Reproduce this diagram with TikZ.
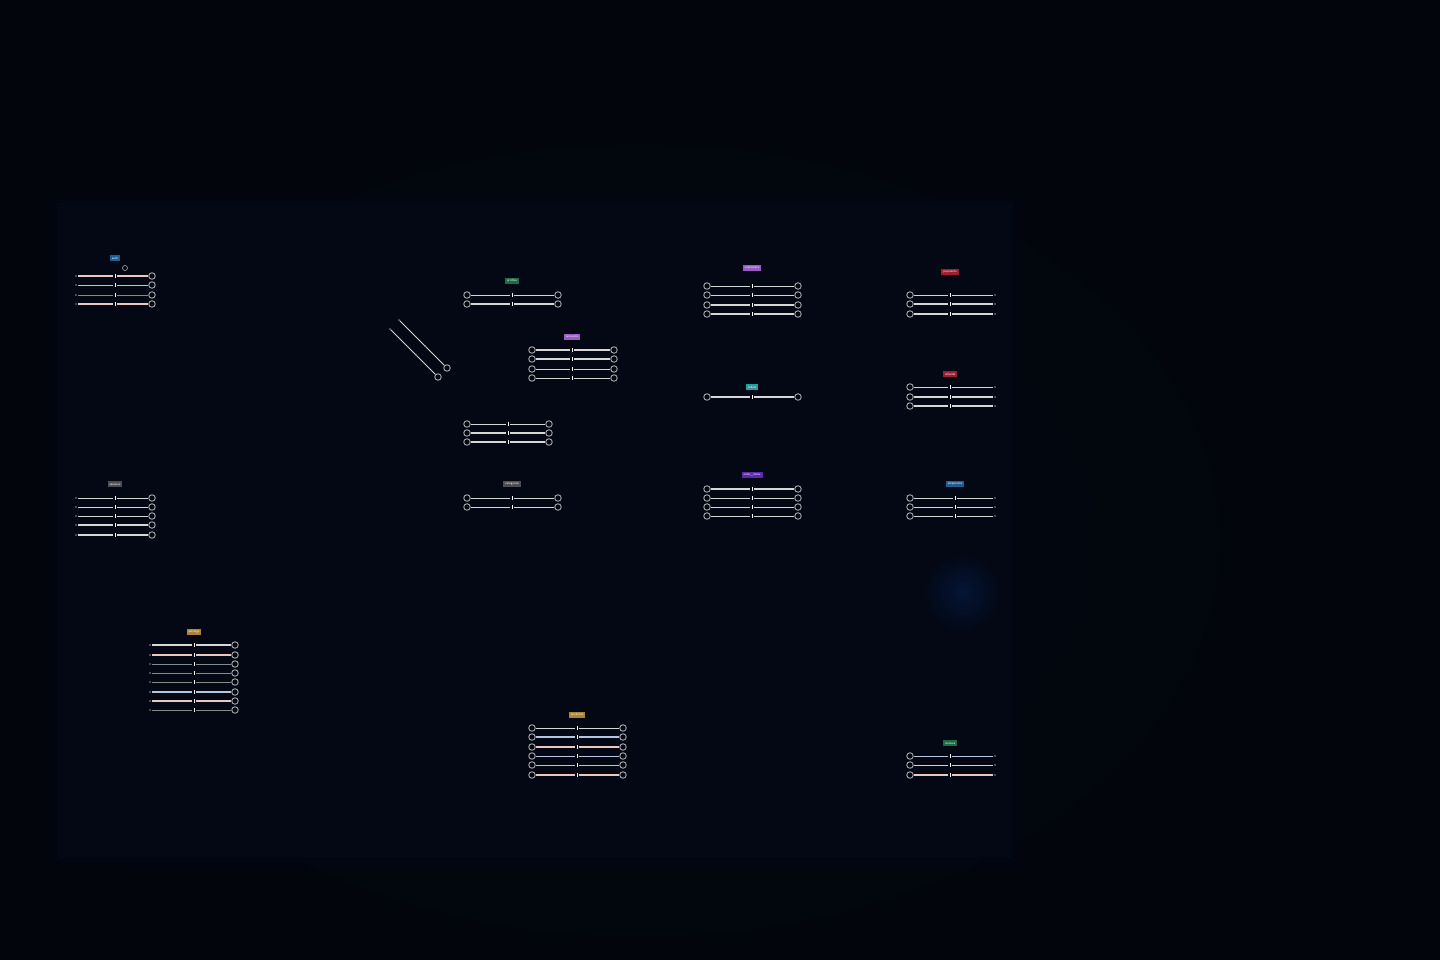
\documentclass[tikz,border=0pt]{standalone}
\usetikzlibrary{shadings}
\definecolor{bgc}{HTML}{02050B}
\definecolor{panelc}{HTML}{030814}
\definecolor{ringc}{HTML}{A8A8A8}
\definecolor{linec}{HTML}{D6D6D6}
\definecolor{pinkl}{HTML}{E8C8C0}
\definecolor{bluel}{HTML}{B8C4DC}
\definecolor{greyl}{HTML}{8A8A8A}
\definecolor{tblue}{HTML}{1E5E92}
\definecolor{tgrey}{HTML}{4C4C52}
\definecolor{tgold}{HTML}{A8853A}
\definecolor{tgreen}{HTML}{1C6B46}
\definecolor{tpurple}{HTML}{9A5CC2}
\definecolor{tred}{HTML}{9E1E2E}
\definecolor{tteal}{HTML}{2A9A9C}
\definecolor{tviolet}{HTML}{5A28A8}
\definecolor{glowc}{HTML}{082050}
\tikzset{
  ring/.style={circle,draw=ringc,line width=0.9pt,minimum size=6.5pt,inner sep=0pt},
  enddot/.style={circle,fill=greyl,minimum size=1.6pt,inner sep=0pt},
  rowline/.style={draw=linec,line width=1.4pt},
  thinrow/.style={line width=0.9pt},
  tickm/.style={draw=white,line width=0.7pt},
  tag/.style={rectangle,inner xsep=2pt,inner ysep=0.8pt,text=white,font=\fontsize{3.2}{3.6}\selectfont\sffamily,minimum height=5.5pt}
}
% rings at both ends
\newcommand\rowB[6]{%
  \node[ring] (#1a) at (#2,#5) {};
  \node[ring] (#1b) at (#3,#5) {};
  \coordinate (#1m) at (#4,#5);
  \draw[rowline,#6] (#1a) -- ([xshift=-2pt]#1m);
  \draw[rowline,#6] ([xshift=2pt]#1m) -- (#1b);
  \draw[tickm] ([yshift=2pt]#1m) -- ([yshift=-2pt]#1m);
}
% dot left, ring right
\newcommand\rowL[6]{%
  \node[enddot] (#1a) at (#2,#5) {};
  \node[ring] (#1b) at (#3,#5) {};
  \coordinate (#1m) at (#4,#5);
  \draw[rowline,#6] ([xshift=2pt]#1a.center) -- ([xshift=-2pt]#1m);
  \draw[rowline,#6] ([xshift=2pt]#1m) -- (#1b);
  \draw[tickm] ([yshift=2pt]#1m) -- ([yshift=-2pt]#1m);
}
% ring left, dot right
\newcommand\rowR[6]{%
  \node[ring] (#1a) at (#2,#5) {};
  \node[enddot] (#1b) at (#3,#5) {};
  \coordinate (#1m) at (#4,#5);
  \draw[rowline,#6] (#1a) -- ([xshift=-2pt]#1m);
  \draw[rowline,#6] ([xshift=2pt]#1m) -- ([xshift=-2pt]#1b.center);
  \draw[tickm] ([yshift=2pt]#1m) -- ([yshift=-2pt]#1m);
}
\begin{document}
\begin{tikzpicture}[x=1pt,y=-1pt]
\useasboundingbox (0,0) rectangle (1440,960);
\fill[bgc] (0,0) rectangle (1440,960);
% soft overall glow
\shade[inner color=panelc!70!bgc,outer color=bgc] (640,540) ellipse (760 and 520);
% soft-edged panel
\foreach \d/\o in {14/0.15,10/0.2,6/0.3,3/0.45,0/1}{
  \fill[panelc,opacity=\o] (58-\d,203-\d) rectangle (1012+\d,858+\d);
}
\shade[inner color=glowc!70!panelc,outer color=panelc,opacity=0.8] (962,592) circle (40);

% group 1 (top left)
\node[tag,fill=tblue] (t1) at (115,258) {auth};
\node[circle,draw=ringc,line width=0.6pt,minimum size=5pt,inner sep=0pt] (t1i) at (125,268) {};
\rowL{g1r1}{76}{152}{115}{276}{draw=pinkl}
\rowL{g1r2}{76}{152}{115}{285}{draw=bluel,thinrow}
\rowL{g1r3}{76}{152}{115}{295}{draw=greyl,thinrow}
\rowL{g1r4}{76}{152}{115}{304}{draw=pinkl}

% group 2 (left middle)
\node[tag,fill=tgrey] (t2) at (115,484) {sessions};
\rowL{g2r1}{76}{152}{115}{498}{thinrow}
\rowL{g2r2}{76}{152}{115}{507}{thinrow}
\rowL{g2r3}{76}{152}{115}{516}{thinrow}
\rowL{g2r4}{76}{152}{115}{525}{}
\rowL{g2r5}{76}{152}{115}{535}{}

% group 3 (bottom left)
\node[tag,fill=tgold] (t3) at (194,632) {settings};
\rowL{g3r1}{150}{235}{194}{645}{}
\rowL{g3r2}{150}{235}{194}{655}{draw=pinkl}
\rowL{g3r3}{150}{235}{194}{664}{draw=greyl,thinrow}
\rowL{g3r4}{150}{235}{194}{673}{draw=greyl,thinrow}
\rowL{g3r5}{150}{235}{194}{682}{draw=greyl,thinrow}
\rowL{g3r6}{150}{235}{194}{692}{draw=bluel}
\rowL{g3r7}{150}{235}{194}{701}{draw=pinkl}
\rowL{g3r8}{150}{235}{194}{710}{draw=greyl,thinrow}

% group 4
\node[tag,fill=tgreen] (t4) at (512,281) {profiles};
\rowB{g4r1}{467}{558}{512}{295}{thinrow}
\rowB{g4r2}{467}{558}{512}{304}{}

% diagonal links
\node[enddot] (d1s) at (399,320) {};
\node[ring] (d1e) at (447,368) {};
\node[enddot] (d2s) at (390,329) {};
\node[ring] (d2e) at (438,377) {};
\draw[draw=linec,line width=0.8pt] (d1s) -- (d1e);
\draw[draw=linec,line width=0.8pt] (d2s) -- (d2e);
\coordinate (d1m) at (425,346);
\coordinate (d2m) at (416,355);
\fill[greyl] (d1m) circle (1);
\fill[greyl] (d2m) circle (1);

% group 6
\node[tag,fill=tpurple] (t6) at (572,337) {accounts};
\rowB{g6r1}{532}{614}{572}{350}{}
\rowB{g6r2}{532}{614}{572}{359}{}
\rowB{g6r3}{532}{614}{572}{369}{thinrow}
\rowB{g6r4}{532}{614}{572}{378}{thinrow}

% group 7 (no label)
\rowB{g7r1}{467}{549}{508}{424}{thinrow}
\rowB{g7r2}{467}{549}{508}{433}{}
\rowB{g7r3}{467}{549}{508}{442}{}

% group 8
\node[tag,fill=tgrey] (t8) at (512,484) {categories};
\rowB{g8r1}{467}{558}{512}{498}{thinrow}
\rowB{g8r2}{467}{558}{512}{507}{thinrow}

% group 9
\node[tag,fill=tpurple] (t9) at (752,268) {customers};
\rowB{g9r1}{707}{798}{752}{286}{thinrow}
\rowB{g9r2}{707}{798}{752}{295}{thinrow}
\rowB{g9r3}{707}{798}{752}{305}{}
\rowB{g9r4}{707}{798}{752}{314}{}

% group 10
\node[tag,fill=tteal] (t10) at (752,387) {orders};
\rowB{g10r1}{707}{798}{752}{397}{}

% group 11
\node[tag,fill=tviolet] (t11) at (752,475) {order\_items};
\rowB{g11r1}{707}{798}{752}{489}{}
\rowB{g11r2}{707}{798}{752}{498}{thinrow}
\rowB{g11r3}{707}{798}{752}{507}{thinrow}
\rowB{g11r4}{707}{798}{752}{516}{thinrow}

% group 12
\node[tag,fill=tred] (t12) at (950,272) {payments};
\rowR{g12r1}{910}{995}{950}{295}{thinrow}
\rowR{g12r2}{910}{995}{950}{304}{}
\rowR{g12r3}{910}{995}{950}{314}{}

% group 13
\node[tag,fill=tred] (t13) at (950,374) {refunds};
\rowR{g13r1}{910}{995}{950}{387}{thinrow}
\rowR{g13r2}{910}{995}{950}{397}{}
\rowR{g13r3}{910}{995}{950}{406}{}

% group 14
\node[tag,fill=tblue] (t14) at (955,484) {shipments};
\rowR{g14r1}{910}{995}{955}{498}{thinrow}
\rowR{g14r2}{910}{995}{955}{507}{thinrow}
\rowR{g14r3}{910}{995}{955}{516}{thinrow}

% group 15
\node[tag,fill=tgold] (t15) at (577,715) {products};
\rowB{g15r1}{532}{623}{577}{728}{thinrow}
\rowB{g15r2}{532}{623}{577}{737}{draw=bluel}
\rowB{g15r3}{532}{623}{577}{747}{draw=pinkl}
\rowB{g15r4}{532}{623}{577}{756}{draw=bluel,thinrow}
\rowB{g15r5}{532}{623}{577}{765}{draw=bluel,thinrow}
\rowB{g15r6}{532}{623}{577}{775}{draw=pinkl}

% group 16
\node[tag,fill=tgreen] (t16) at (950,743) {reviews};
\rowR{g16r1}{910}{995}{950}{756}{draw=bluel,thinrow}
\rowR{g16r2}{910}{995}{950}{765}{draw=pinkl,thinrow}
\rowR{g16r3}{910}{995}{950}{775}{draw=pinkl}
\end{tikzpicture}
\end{document}
